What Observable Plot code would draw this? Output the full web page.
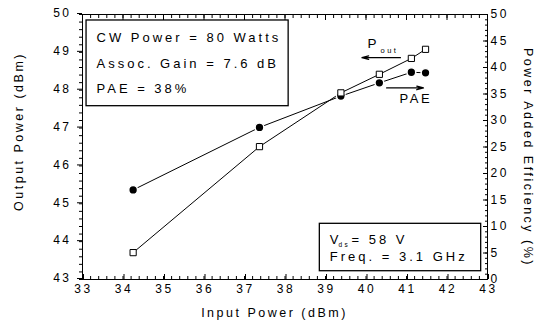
<!DOCTYPE html>
<html><head><meta charset="utf-8">
<script src="https://cdn.jsdelivr.net/npm/d3@7"></script>
<script src="https://cdn.jsdelivr.net/npm/@observablehq/plot@0.6"></script>
<style>
body{margin:0;background:#fff;}
#chart svg text{letter-spacing:2.5px;}
#chart svg text.sub{letter-spacing:1.2px;}
#chart svg g.box text{letter-spacing:3px;}
</style></head><body><div id="chart"></div>
<script>
// ---- data ----
const inputPower = [34.25, 37.37, 39.38, 40.33, 41.12, 41.47];
const outputPower = [43.71, 46.51, 47.93, 48.42, 48.84, 49.08];
const pae = [16.9, 28.7, 34.6, 37.1, 39.1, 39.0];
const xTickLabels = [33, 34, 35, 36, 37, 38, 39, 40, 41, 42, 43];
const leftTickLabels = [43, 44, 45, 46, 47, 48, 49, 50];
const rightTickLabels = [0, 5, 10, 15, 20, 25, 30, 35, 40, 45, 50];
const xTitle = "Input Power (dBm)";
const yTitle = "Output Power (dBm)";
const y2Title = "Power Added Efficiency (%)";
const infoLines = ["CW Power = 80 Watts", "Assoc. Gain = 7.6 dB", "PAE = 38%"];
const freqLine = "Freq. = 3.1 GHz";

// ---- helpers ----
const toLeft = p => 43 + p * 7 / 50;
const toPae = v => (v - 43) * 50 / 7;
const xMinor = d3.range(0, 51).map(i => 33 + i * 0.2);
const yMinor = d3.range(0, 36).map(i => 43 + i * 0.2);
const rMinor = d3.range(0, 51).map(i => toLeft(i));
const poutData = inputPower.map((x, i) => ({x, y: outputPower[i]}));
const paeData = inputPower.map((x, i) => ({x, y: toLeft(pae[i])}));
const font = "'Liberation Sans', Arial, sans-serif";
const blank = () => "";
const boxText = (t, px, py, opts = {}) => Plot.text([t], {frameAnchor: "top-left", dx: px - 82, dy: py - 14, lineAnchor: "bottom", textAnchor: "start", fontSize: 13, className: "box", ...opts});

const marks = [
  // ticks
  Plot.axisX(xMinor, {anchor: "bottom", tickSize: -3, tickFormat: blank, label: null}),
  Plot.axisX(xTickLabels, {anchor: "bottom", tickSize: -5, tickPadding: 9.5, label: null, fontSize: 12, dx: 1}),
  Plot.axisX(xMinor, {anchor: "top", tickSize: -3, tickFormat: blank, label: null}),
  Plot.axisX(xTickLabels, {anchor: "top", tickSize: -5, tickFormat: blank, label: null}),
  Plot.axisY(yMinor, {anchor: "left", tickSize: 3, tickFormat: blank, label: null}),
  Plot.axisY(leftTickLabels, {anchor: "left", tickSize: 5, tickPadding: 6, label: null, fontSize: 12, dy: -1}),
  Plot.axisY(rMinor, {anchor: "right", tickSize: -3, tickFormat: blank, label: null}),
  Plot.axisY(rightTickLabels.map(toLeft), {anchor: "right", tickSize: -5, tickPadding: 8, label: null, fontSize: 12,
    tickFormat: d => String(Math.round(toPae(d)))}),
  Plot.frame({stroke: "black"}),
  // annotation boxes
  Plot.rect([{x1: 33.1, x2: 38.09, y1: 49.842, y2: 47.578}], {x1: "x1", x2: "x2", y1: "y1", y2: "y2", fill: "white", stroke: "black", strokeWidth: 1.3}),
  Plot.rect([{x1: 38.86, x2: 42.844, y1: 44.471, y2: 43.219}], {x1: "x1", x2: "x2", y1: "y1", y2: "y2", fill: "white", stroke: "black", strokeWidth: 1.3}),
  // series
  Plot.line(poutData, {x: "x", y: "y", stroke: "black", strokeWidth: 1}),
  Plot.line(paeData, {x: "x", y: "y", stroke: "black", strokeWidth: 1}),
  Plot.dot(paeData, {x: "x", y: "y", r: 4.4, fill: "black", stroke: "white", strokeWidth: 1.5}),
  Plot.dot(poutData, {x: "x", y: "y", r: 3.5, symbol: "square", fill: "white", stroke: "black", strokeWidth: 1}),
  // arrows
  Plot.arrow([{x1: 40.85, x2: 39.9, y: 48.86}], {x1: "x1", x2: "x2", y1: "y", y2: "y", stroke: "black", strokeWidth: 1.3, headLength: 8, headAngle: 30}),
  Plot.arrow([{x1: 40.51, x2: 41.42, y: 48.06}], {x1: "x1", x2: "x2", y1: "y", y2: "y", stroke: "black", strokeWidth: 1.3, headLength: 8, headAngle: 30}),
  // labels
  Plot.text(["P"], {frameAnchor: "top-left", dx: 367 - 82, dy: 47.5 - 14, lineAnchor: "bottom", textAnchor: "start", fontSize: 13.5}),
  Plot.text(["out"], {frameAnchor: "top-left", dx: 380 - 82, dy: 52.3 - 14, lineAnchor: "bottom", textAnchor: "start", fontSize: 7.5, className: "sub"}),
  Plot.text(["PAE"], {frameAnchor: "top-left", dx: 399 - 82, dy: 102 - 14, lineAnchor: "bottom", textAnchor: "start", fontSize: 13}),
  ...infoLines.map((t, i) => boxText(t, 96, [41.5, 67.5, 92.5][i])),
  boxText("V", 329.3, 243.3),
  Plot.text(["ds"], {frameAnchor: "top-left", dx: 338 - 82, dy: 246 - 14, lineAnchor: "bottom", textAnchor: "start", fontSize: 6.5, className: "sub"}),
  boxText("= 58 V", 351, 243.3),
  boxText(freqLine, 329.3, 260.5),
  // axis titles
  Plot.text([xTitle], {frameAnchor: "bottom", dx: 274 - 284.5, dy: 316.7 - 279, lineAnchor: "bottom", textAnchor: "middle", fontSize: 12.5}),
  Plot.text([yTitle], {frameAnchor: "left", dx: 18 - 82, dy: 131 - 146.5, rotate: -90, lineAnchor: "middle", textAnchor: "middle", fontSize: 12.5}),
  Plot.text([y2Title], {frameAnchor: "right", dx: 527 - 487, dy: 157 - 146.5, rotate: 90, lineAnchor: "middle", textAnchor: "middle", fontSize: 12.5})
];

const chart = Plot.plot({
  width: 540, height: 323,
  marginLeft: 82, marginRight: 53, marginTop: 14, marginBottom: 44,
  x: {domain: [33, 43]},
  y: {domain: [43, 50]},
  style: {fontFamily: font, fontSize: "12px", color: "black", background: "white", overflow: "visible"},
  marks
});
document.getElementById("chart").appendChild(chart);
</script></body></html>
